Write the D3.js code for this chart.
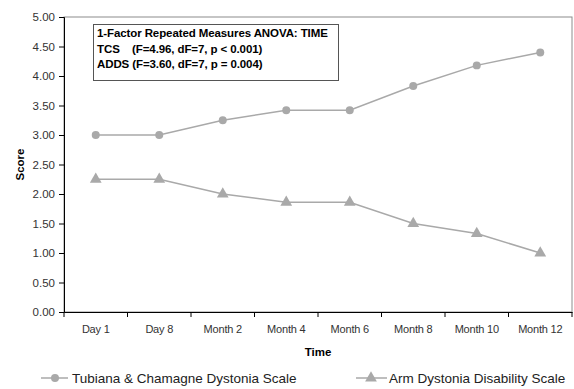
<!DOCTYPE html>
<html><head><meta charset="utf-8">
<script src="https://cdn.jsdelivr.net/npm/d3@7"></script>
<style>body{margin:0;background:#fff}svg{display:block;font-family:"Liberation Sans",Arial,sans-serif}</style>
</head><body><svg width="574" height="389"></svg>
<script>
const categories = ["Day 1","Day 8","Month 2","Month 4","Month 6","Month 8","Month 10","Month 12"];
const tcsValues = [3.00,3.00,3.25,3.42,3.42,3.83,4.18,4.40];
const addsValues = [2.25,2.25,2.00,1.86,1.86,1.50,1.33,1.00];
const yTicks = [0,0.5,1,1.5,2,2.5,3,3.5,4,4.5,5];
const seriesNames = ["Tubiana & Chamagne Dystonia Scale","Arm Dystonia Disability Scale"];
const annotation = ["1-Factor Repeated Measures ANOVA: TIME","TCS    (F=4.96, dF=7, p < 0.001)","ADDS (F=3.60, dF=7, p = 0.004)"];

const svg = d3.select("svg");
const L=64, R=572, T=17, B=312;
const x = d3.scaleBand().domain(categories).range([L,R]);
const y = d3.scaleLinear().domain([0,5]).range([B,T]);
const grey="#a9a9a9";

svg.append("rect").attr("x",L).attr("y",T).attr("width",R-L).attr("height",B-T)
  .attr("fill","none").attr("stroke","#8c8c8c").attr("stroke-width",1);

const ya = svg.append("g").attr("transform",`translate(${L},0)`)
  .call(d3.axisLeft(y).tickValues(yTicks).tickFormat(d3.format(".2f")).tickSizeOuter(0).tickSize(5));
ya.selectAll("text").attr("font-size",11.5).attr("fill","#333").attr("x",-9).attr("font-family","Liberation Sans, Arial");
ya.select(".domain").attr("stroke","#000");

const xa = svg.append("g").attr("transform",`translate(0,${B})`)
  .call(d3.axisBottom(x).tickSize(0).tickSizeOuter(0));
xa.selectAll("text").attr("font-size",11).attr("fill","#333").attr("y",0).attr("dy","1.9em").attr("letter-spacing","-0.2").attr("font-family","Liberation Sans, Arial");
xa.select(".domain").attr("stroke","#000");
svg.append("g").selectAll("line").data(categories.concat(["_end"])).join("line")
  .attr("x1",(d,i)=>L+i*x.step()).attr("x2",(d,i)=>L+i*x.step())
  .attr("y1",B).attr("y2",B+5).attr("stroke","#000");

svg.append("text").attr("transform",`translate(24,${(T+B)/2}) rotate(-90)`)
  .attr("text-anchor","middle").attr("font-size",11.5).attr("font-weight","bold").text("Score");
svg.append("text").attr("x",(L+R)/2).attr("y",356).attr("text-anchor","middle")
  .attr("font-size",11.5).attr("font-weight","bold").text("Time");

const cx = d=>x(d)+x.bandwidth()/2;
const line = d3.line().x((d,i)=>cx(categories[i])).y(d=>y(d));
svg.append("path").datum(tcsValues).attr("d",line).attr("fill","none").attr("stroke",grey).attr("stroke-width",1.5);
svg.append("path").datum(addsValues).attr("d",line).attr("fill","none").attr("stroke",grey).attr("stroke-width",1.5);
const circ = d3.symbol().type(d3.symbolCircle).size(50);
const tri = d3.symbol().type(d3.symbolTriangle).size(60);
svg.append("g").selectAll("path").data(tcsValues).join("path")
  .attr("d",circ).attr("transform",(d,i)=>`translate(${cx(categories[i])},${y(d)})`).attr("fill",grey);
svg.append("g").selectAll("path").data(addsValues).join("path")
  .attr("d",tri).attr("transform",(d,i)=>`translate(${cx(categories[i])},${y(d)})`).attr("fill",grey);

// annotation box
svg.append("rect").attr("x",93.5).attr("y",24.5).attr("width",245).attr("height",56)
  .attr("fill","#fff").attr("stroke","#555").attr("stroke-width",1);
annotation.forEach((t,i)=>{
  svg.append("text").attr("x",97).attr("y",37+i*15.5).attr("font-size",11.5).attr("font-weight","bold")
    .attr("letter-spacing","-0.1").style("white-space","pre").text(t);
});

// legend
const lg = svg.append("g");
const lgY = 378;
[[41,68,55,circ,72],[356,387,371,tri,389]].forEach((p,i)=>{
  lg.append("line").attr("x1",p[0]).attr("x2",p[1]).attr("y1",lgY).attr("y2",lgY).attr("stroke",grey).attr("stroke-width",1.5);
  lg.append("path").attr("d",p[3]).attr("transform",`translate(${p[2]},${lgY})`).attr("fill",grey);
  lg.append("text").attr("x",p[4]).attr("y",lgY+5).attr("font-size",13.5).attr("fill","#222").text(seriesNames[i]);
});
</script></body></html>
